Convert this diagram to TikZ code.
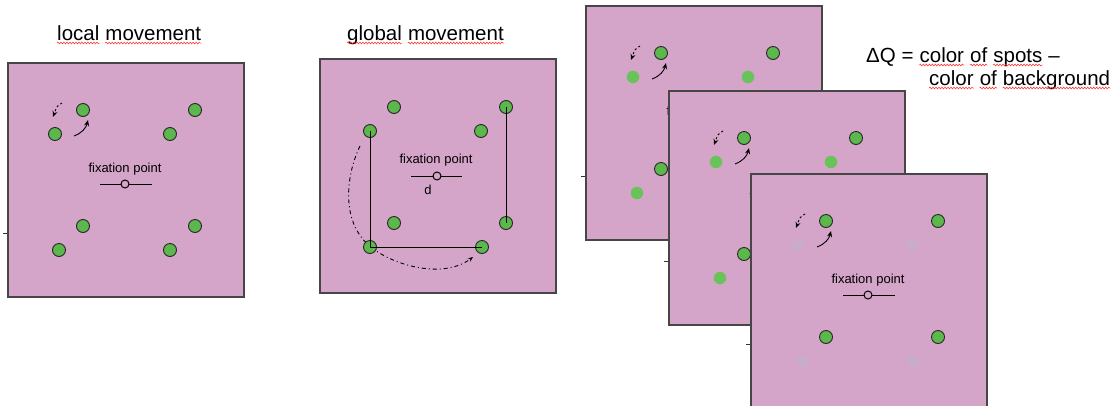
\documentclass[tikz,border=0pt]{standalone}
\usepackage{fontspec}
\setmainfont{Liberation Sans}
\usetikzlibrary{arrows.meta,decorations.pathmorphing}
\definecolor{panelbg}{RGB}{212,165,200}
\definecolor{dotg}{RGB}{92,184,76}
\definecolor{dotl}{RGB}{106,195,90}
\definecolor{dotp}{RGB}{201,172,202}
\definecolor{frame}{RGB}{70,70,70}
\tikzset{
 panel/.style={draw=frame,fill=panelbg,line width=1.1pt},
 gdot/.style={circle,draw=black!85,fill=dotg,line width=0.9pt,minimum size=13pt,inner sep=0pt},
 ldot/.style={circle,fill=dotl,minimum size=12.5pt,inner sep=0pt},
 pdot/.style={circle,fill=dotp,minimum size=12.5pt,inner sep=0pt},
 fixring/.style={circle,draw=black,fill=panelbg,line width=1pt,minimum size=8pt,inner sep=0pt},
 fixline/.style={line width=0.8pt},
 small/.style={font=\fontsize{13}{15}\selectfont,inner sep=0pt},
 big/.style={font=\fontsize{20.5}{24}\selectfont,inner sep=0pt,anchor=base west},
 sq/.style={draw=red!85!white,line width=0.5pt,decorate,decoration={snake,amplitude=0.9pt,segment length=3pt}},
 arr/.style={line width=0.9pt,-{Stealth[length=6pt,width=5pt]}},
 darr/.style={arr,dash pattern=on 2pt off 2.5pt},
 tickmark/.style={draw=black!80,line width=0.8pt},
 conn/.style={line width=1pt},
 arcarrow/.style={line width=0.9pt,dash pattern=on 4pt off 3pt on 1pt off 3pt,-{Stealth[length=5pt,width=4pt]}},
 stim/.pic={
  \coordinate (-t0) at (-5,170); \coordinate (-t1) at (0,170);
  \draw[tickmark] (-t0) -- (-t1);
  \path[panel] (0,0) rectangle (236,234);
  \node[small,anchor=base] (-fx) at (117,109) {fixation point};
  \coordinate (-l) at (92,121); \coordinate (-r) at (144,121);
  \draw[fixline] (-l) -- (-r);
  \node[fixring] (-fp) at (117,121) {};
  \node[gdot] (-a) at (75,47) {};
  \node[gdot] (-b) at (187,47) {};
  \node[#1] (-c) at (47,71) {};
  \node[#1] (-d) at (162,71) {};
  \node[gdot] (-e) at (75,163) {};
  \node[gdot] (-f) at (187,163) {};
  \node[#1] (-g) at (51,187) {};
  \node[#1] (-h) at (162,187) {};
  \coordinate (-da) at (54,40); \coordinate (-db) at (45,54);
  \draw[darr] (-da) .. controls (49,43) .. (-db);
  \coordinate (-sa) at (66,73); \coordinate (-sb) at (80,57);
  \draw[arr] (-sa) .. controls (74,70) and (78,65) .. (-sb);
 }
}
\begin{document}
\begin{tikzpicture}[x=1pt,y=-1pt]
\clip (0,0) rectangle (1115,405);
\fill[white] (0,0) rectangle (1115,405);

% titles
\node[big] (t1a) at (57,40) {local};
\node[big] (t1b) at ([xshift=5.7pt]t1a.base east) {movement};
\node[big] (t2a) at (347,40) {global};
\node[big] (t2b) at ([xshift=5.7pt]t2a.base east) {movement};
\foreach \w in {t1a,t1b,t2a,t2b}
  \draw[sq] ([yshift=-3pt]\w.base west) -- ([yshift=-3pt]\w.base east);

% Delta Q text
\node[big] (q0) at (866,62) {ΔQ =};
\node[big] (q1) at ([xshift=5.7pt]q0.base east) {color};
\node[big] (q2) at ([xshift=5.7pt]q1.base east) {of};
\node[big] (q3) at ([xshift=5.7pt]q2.base east) {spots};
\node[big] (q4) at ([xshift=5.7pt]q3.base east) {–};
\node[big] (r1) at (929,85) {color};
\node[big] (r2) at ([xshift=5.7pt]r1.base east) {of};
\node[big] (r3) at ([xshift=5.7pt]r2.base east) {background};
\foreach \w in {q1,q2,q3,r1,r2,r3}
  \draw[sq] ([yshift=-3pt]\w.base west) -- ([yshift=-3pt]\w.base east);

% panel 1: local movement
\pic (p1) at (8,63) {stim=gdot};

% panel 2: global movement
\path[panel] (320,59) rectangle (556,293);
\coordinate (ga) at (360,146); \coordinate (gm) at (362,238); \coordinate (gb) at (473,257);
\draw[arcarrow] (ga) .. controls (346,175) and (343,215) .. (gm)
                     .. controls (380,262) and (440,282) .. (gb);
\node[small,anchor=base] (gfx) at (436,163) {fixation point};
\coordinate (gl) at (411,176); \coordinate (gr) at (462,176);
\draw[fixline] (gl) -- (gr);
\node[fixring] (gfp) at (437,176) {};
\node[small] (gd) at (428,190) {d};
\node[gdot] (g1) at (394,107) {};
\node[gdot] (g2) at (506,107) {};
\node[gdot] (g3) at (370,131) {};
\node[gdot] (g4) at (481,131) {};
\node[gdot] (g5) at (394,223) {};
\node[gdot] (g6) at (506,223) {};
\node[gdot] (g7) at (370,247) {};
\node[gdot] (g8) at (482,247) {};
\draw[conn] (g3.center) -- (g7.center) -- (g8.center);
\draw[conn] (g2.center) -- (g6.center);

% stacked panels
\pic (p3) at (586,6) {stim=ldot};
\pic (p4) at (669,91) {stim=ldot};
\pic (p5) at (751,174) {stim=pdot};
\end{tikzpicture}
\end{document}
